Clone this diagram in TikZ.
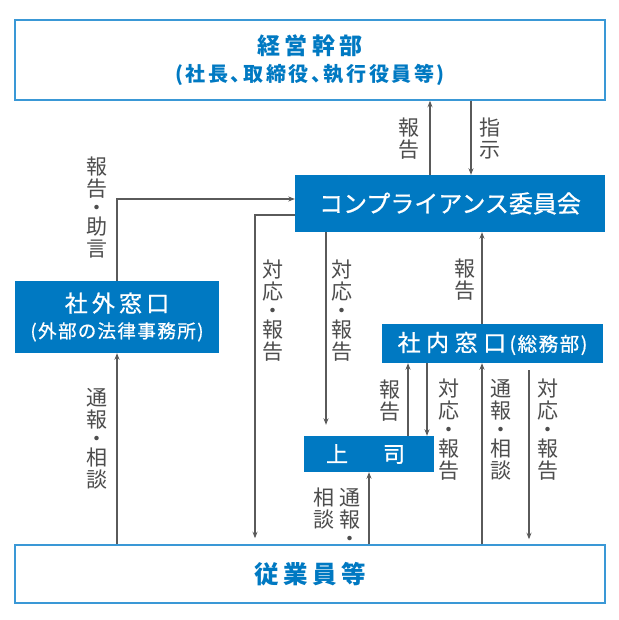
\documentclass[tikz,border=0pt]{standalone}
\usepackage{fontspec}
\setmainfont{Noto Sans CJK JP}
\newfontfamily\jpA[LetterSpace=18]{Noto Sans CJK JP}
\newfontfamily\jpW[FakeBold=0.8]{Noto Sans CJK JP}
\newfontfamily\jpWA[FakeBold=0.8,LetterSpace=18]{Noto Sans CJK JP}
\newfontfamily\jpWC[FakeBold=0.8,LetterSpace=24]{Noto Sans CJK JP}
\newfontfamily\jpWP[FakeBold=0.8,RawFeature=+palt,LetterSpace=8]{Noto Sans CJK JP}
\newfontfamily\jpP[RawFeature=+palt,LetterSpace=13]{Noto Sans CJK JP}
\usetikzlibrary{arrows.meta}
\definecolor{cblue}{HTML}{0079C2}
\definecolor{cborder}{HTML}{3A98D6}
\definecolor{cline}{HTML}{5A5A5A}
\definecolor{clabel}{HTML}{4D4D4D}
\begin{document}
\begin{tikzpicture}[x=1pt,y=-1pt,
  whitebox/.style={draw=cborder,line width=1.5pt,fill=white,inner sep=0pt,text=cblue,align=center},
  bluebox/.style={fill=cblue,draw=none,inner sep=0pt,text=white,align=center},
  arr/.style={draw=cline,line width=1.1pt,-{Stealth[length=6.5pt,width=5pt]}},
  lab/.style={text=clabel,inner sep=0pt,align=center,font=\fontsize{21}{22}\selectfont}]
\useasboundingbox[fill=white] (0,0) rectangle (618,620);

% boxes
\node[whitebox,minimum width=590pt,minimum height=80pt,font=\fontsize{20}{26.5}\selectfont\bfseries] (exec) at (310,60)
  {{\fontsize{23}{26.5}\jpA\bfseries 経営幹部}\\{\jpP\bfseries (社長、取締役、執行役員等)}};
\node[bluebox,minimum width=310pt,minimum height=57pt,font=\fontsize{24}{24}\jpW] (comm) at (450,203.5) {コンプライアンス委員会};
\node[bluebox,minimum width=204pt,minimum height=72pt,font=\fontsize{18.5}{26}\jpWP] (outside) at (117,317)
  {{\fontsize{23}{26}\jpWA 社外窓口}\\(外部の法律事務所)};
\node[bluebox,minimum width=221pt,minimum height=39pt] (inside) at (492.5,343.5)
  {{\fontsize{23}{23}\jpWC 社内窓口}{\fontsize{19.5}{19.5}\jpWP\,(総務部)}};
\node[bluebox,minimum width=130pt,minimum height=36pt,font=\fontsize{22}{22}\jpW] (boss) at (369,454) {上\hspace{35pt}司\kern7pt};
\node[whitebox,minimum width=590pt,minimum height=58pt,font=\fontsize{24.5}{24.5}\jpA\bfseries] (emp) at (310,574) {従業員等};

% columns and rows
\coordinate (cA) at (430,0);
\coordinate (cB) at (471,0);
\coordinate (cM) at (255,0);
\coordinate (cN) at (326,0);
\coordinate (cO) at (408,0);
\coordinate (cP) at (427,0);
\coordinate (cQ) at (482,0);
\coordinate (cR) at (529,0);
\coordinate (cS) at (369,0);
\coordinate (rA) at (0,199);
\coordinate (rB) at (0,215);

% connectors
\draw[arr] (comm.north -| cA) -- (exec.south -| cA);
\draw[arr] (exec.south -| cB) -- (comm.north -| cB);
\draw[arr] (outside.north) |- (comm.west |- rA);
\draw[arr] (emp.north -| outside.north) -- (outside.south);
\draw[arr,shorten >=6pt] (comm.west |- rB) -| (emp.north -| cM);
\draw[arr,shorten >=11pt] (comm.south -| cN) -- (boss.north -| cN);
\draw[arr] (inside.north -| cQ) -- (comm.south -| cQ);
\draw[arr] (boss.north -| cO) -- (inside.south -| cO);
\draw[arr] (inside.south -| cP) -- (boss.north -| cP);
\draw[arr] (emp.north -| cQ) -- (inside.south -| cQ);
\draw[arr,shorten <=7pt,shorten >=5pt] (inside.south -| cR) -- (emp.north -| cR);
\draw[arr] (emp.north -| cS) -- (boss.south -| cS);

% labels
\node[lab] (l1) at (409,138.5) {報\\告};
\node[lab] (l2) at (490,138.5) {指\\示};
\node[lab] (l3) at (97,207.5) {報\\告\\[-3pt]・\\[-3pt]助\\言};
\node[lab] (l4) at (97,439) {通\\報\\[-3pt]・\\[-3pt]相\\談};
\node[lab] (l5) at (273,311) {対\\応\\[-3pt]・\\[-3pt]報\\告};
\node[lab] (l6) at (342,311) {対\\応\\[-3pt]・\\[-3pt]報\\告};
\node[lab] (l7) at (465,280) {報\\告};
\node[lab] (l8) at (390,400.5) {報\\告};
\node[lab] (l9) at (449,430) {対\\応\\[-3pt]・\\[-3pt]報\\告};
\node[lab] (l10) at (501,430) {通\\報\\[-3pt]・\\[-3pt]相\\談};
\node[lab] (l11) at (548,430) {対\\応\\[-3pt]・\\[-3pt]報\\告};
\node[lab,anchor=north] (l12) at (350,488) {通\\報\\[-3pt]・};
\node[lab,anchor=north] (l13) at (324,488) {相\\談};
\end{tikzpicture}
\end{document}
